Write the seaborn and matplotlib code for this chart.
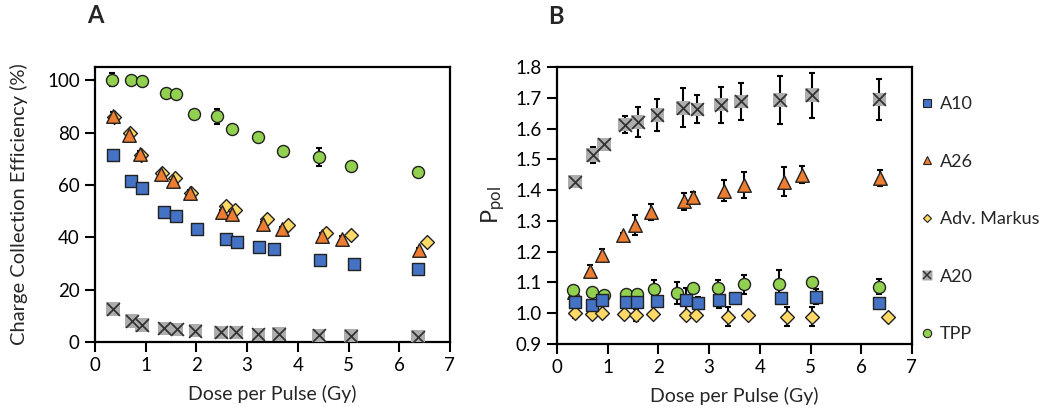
import numpy as np
import pandas as pd
import seaborn as sns
import matplotlib.pyplot as plt
from matplotlib.lines import Line2D

# ---- panel A: charge collection efficiency (%) ----
a_a10_dose = [0.36, 0.71, 0.92, 1.37, 1.60, 2.01, 2.58, 2.81, 3.23, 3.53, 4.44, 5.11, 6.38]
a_a10 = [71.5, 61.6, 58.9, 49.7, 48.1, 43.1, 39.4, 38.0, 36.3, 35.4, 31.3, 29.9, 27.7]
a_a10_err = [0.8, 1.5, 0.8, 0.8, 0.8, 0.8, 0.8, 0.8, 0.8, 0.8, 0.8, 0.8, 0.8]

a_a26_dose = [0.35, 0.67, 0.89, 1.30, 1.54, 1.87, 2.51, 2.70, 3.31, 3.69, 4.48, 4.88, 6.39]
a_a26 = [86.5, 79.0, 72.0, 64.0, 61.5, 57.0, 49.5, 49.0, 45.0, 43.0, 40.5, 39.5, 35.0]
a_a26_err = [1.5, 1.0, 1.0, 1.0, 1.0, 1.0, 1.0, 1.0, 1.0, 1.0, 1.0, 1.0, 1.0]

a_adv_dose = [0.37, 0.68, 0.90, 1.32, 1.58, 1.90, 2.58, 2.77, 3.40, 3.80, 4.55, 5.04, 6.55]
a_adv = [86.0, 80.0, 71.5, 64.5, 62.5, 57.0, 52.0, 50.5, 47.0, 44.5, 41.5, 41.0, 38.0]
a_adv_err = [0.8, 0.8, 0.8, 0.8, 0.8, 0.8, 0.8, 0.8, 0.8, 0.8, 0.8, 0.8, 0.8]

a_a20_dose = [0.35, 0.72, 0.93, 1.37, 1.61, 1.98, 2.49, 2.78, 3.22, 3.63, 4.41, 5.05, 6.37]
a_a20 = [12.5, 8.0, 6.5, 5.2, 4.8, 4.3, 3.6, 3.6, 2.9, 3.0, 2.5, 2.3, 1.9]
a_a20_err = [0.5, 0.5, 0.5, 0.5, 0.5, 0.5, 0.5, 0.5, 0.5, 0.5, 0.5, 0.5, 0.5]

a_tpp_dose = [0.33, 0.70, 0.93, 1.40, 1.59, 1.95, 2.40, 2.71, 3.21, 3.71, 4.41, 5.04, 6.37]
a_tpp = [100.2, 100.0, 99.7, 95.2, 94.8, 87.0, 86.3, 81.2, 78.4, 73.0, 70.7, 67.2, 64.9]
a_tpp_err = [2.5, 0.8, 0.8, 0.8, 0.8, 1.8, 2.9, 1.0, 1.0, 1.5, 3.4, 0.8, 1.2]

# ---- panel B: Ppol ----
b_a10_dose = [0.355, 0.68, 0.89, 1.36, 1.57, 1.98, 2.55, 2.79, 3.20, 3.51, 4.41, 5.10, 6.36]
b_a10 = [1.035, 1.028, 1.043, 1.035, 1.035, 1.039, 1.043, 1.033, 1.043, 1.051, 1.051, 1.054, 1.033]
b_a10_err = [0.02, 0.015, 0.01, 0.01, 0.015, 0.01, 0.04, 0.02, 0.025, 0.01, 0.01, 0.025, 0.01]

b_a26_dose = [0.34, 0.66, 0.89, 1.30, 1.54, 1.85, 2.50, 2.68, 3.29, 3.69, 4.48, 4.83, 6.37]
b_a26 = [1.07, 1.138, 1.19, 1.255, 1.287, 1.329, 1.364, 1.379, 1.399, 1.417, 1.428, 1.451, 1.44]
b_a26_err = [0.01, 0.02, 0.02, 0.005, 0.033, 0.026, 0.027, 0.015, 0.035, 0.043, 0.046, 0.027, 0.026]

b_adv_dose = [0.355, 0.68, 0.89, 1.32, 1.55, 1.90, 2.55, 2.75, 3.38, 3.76, 4.53, 5.03, 6.52]
b_adv = [1.0, 0.997, 1.0, 0.997, 0.994, 0.997, 0.994, 0.994, 0.989, 0.994, 0.989, 0.989, 0.989]
b_adv_err = [0.015, 0.01, 0.005, 0.005, 0.02, 0.005, 0.01, 0.01, 0.03, 0.005, 0.03, 0.03, 0.005]

b_a20_dose = [0.355, 0.70, 0.93, 1.34, 1.59, 1.98, 2.48, 2.77, 3.23, 3.63, 4.39, 5.03, 6.36]
b_a20 = [1.428, 1.515, 1.549, 1.613, 1.622, 1.645, 1.668, 1.663, 1.678, 1.689, 1.694, 1.709, 1.695]
b_a20_err = [0.005, 0.027, 0.01, 0.027, 0.05, 0.051, 0.064, 0.045, 0.059, 0.061, 0.079, 0.073, 0.066]

b_tpp_dose = [0.31, 0.68, 0.92, 1.37, 1.57, 1.91, 2.37, 2.68, 3.17, 3.69, 4.37, 5.03, 6.36]
b_tpp = [1.075, 1.069, 1.059, 1.062, 1.062, 1.078, 1.065, 1.083, 1.083, 1.094, 1.094, 1.102, 1.086]
b_tpp_err = [0.015, 0.01, 0.005, 0.01, 0.015, 0.03, 0.035, 0.01, 0.025, 0.03, 0.045, 0.01, 0.025]

labels = ['A10', 'A26', 'Adv. Markus', 'A20', 'TPP']
colores = {'A10': '#4472C4', 'A26': '#ED7D31', 'Adv. Markus': '#FFD966',
           'A20': '#ADADAD', 'TPP': '#92D050'}
marcadores = {'A10': 's', 'A26': '^', 'Adv. Markus': 'D', 'A20': 's', 'TPP': 'o'}
tam = {'A10': 80, 'A26': 95, 'Adv. Markus': 50, 'A20': 95, 'TPP': 75}

sns.set_theme(style='ticks')
plt.rcParams['font.family'] = ['Lato', 'DejaVu Sans']
plt.rcParams['mathtext.fontset'] = 'custom'
plt.rcParams['mathtext.rm'] = 'Lato'
plt.rcParams['mathtext.it'] = 'Lato'

fig = plt.figure(figsize=(10.5, 4.2), dpi=100)
ax_a = fig.add_axes([0.0905, 0.186, 0.338, 0.654])
ax_b = fig.add_axes([0.5305, 0.181, 0.338, 0.659])


def dibujar(ax, series, orden):
    for nombre in orden:
        x, y, e = series[nombre]
        ax.errorbar(x, y, yerr=e, fmt='none', ecolor='black', elinewidth=1.5,
                    capsize=2.5, capthick=1.5, zorder=2)
    for z, nombre in enumerate(orden):
        x, y, e = series[nombre]
        df = pd.DataFrame({'dosis': x, 'valor': y})
        if nombre == 'A20':
            sns.scatterplot(data=df, x='dosis', y='valor', ax=ax, marker='s',
                            color=colores[nombre], edgecolor='none', s=tam[nombre],
                            zorder=3 + z, legend=False)
            sns.scatterplot(data=df, x='dosis', y='valor', ax=ax, marker='x',
                            color='#333333', s=tam[nombre] * 0.9, linewidth=1.3,
                            zorder=3 + z, legend=False)
        else:
            sns.scatterplot(data=df, x='dosis', y='valor', ax=ax,
                            marker=marcadores[nombre], color=colores[nombre],
                            edgecolor='#222222', linewidth=1.0, s=tam[nombre],
                            zorder=3 + z, legend=False)


serie_a = {'A10': (a_a10_dose, a_a10, a_a10_err),
           'A26': (a_a26_dose, a_a26, a_a26_err),
           'Adv. Markus': (a_adv_dose, a_adv, a_adv_err),
           'A20': (a_a20_dose, a_a20, a_a20_err),
           'TPP': (a_tpp_dose, a_tpp, a_tpp_err)}
serie_b = {'A10': (b_a10_dose, b_a10, b_a10_err),
           'A26': (b_a26_dose, b_a26, b_a26_err),
           'Adv. Markus': (b_adv_dose, b_adv, b_adv_err),
           'A20': (b_a20_dose, b_a20, b_a20_err),
           'TPP': (b_tpp_dose, b_tpp, b_tpp_err)}

dibujar(ax_a, serie_a, ['A20', 'A10', 'Adv. Markus', 'A26', 'TPP'])
dibujar(ax_b, serie_b, ['Adv. Markus', 'A20', 'A26', 'TPP', 'A10'])

for ax in (ax_a, ax_b):
    ax.set_xlim(0, 7)
    ax.set_xticks(range(0, 8))
    for s in ax.spines.values():
        s.set_linewidth(1.6)
        s.set_color('black')
    ax.tick_params(axis='both', direction='out', length=7, width=1.5,
                   labelsize=13.5, colors='black', pad=4)
    ax.set_xlabel('Dose per Pulse (Gy)', fontsize=14, labelpad=8)

ax_a.set_ylim(0, 105)
ax_a.set_yticks(range(0, 101, 20))
ax_a.set_ylabel('Charge Collection Efficiency (%)', fontsize=14.5, labelpad=14)

ax_b.set_ylim(0.9, 1.8)
ax_b.set_yticks(np.round(np.arange(0.9, 1.81, 0.1), 1))
ax_b.set_yticklabels([f'{v:.1f}' for v in np.arange(0.9, 1.81, 0.1)])
ax_b.set_ylabel(r'P$_{\mathrm{pol}}$', fontsize=17, labelpad=6)

fig.text(0.091, 0.962, 'A', fontsize=17, fontweight='bold', ha='center', va='center')
fig.text(0.529, 0.960, 'B', fontsize=17, fontweight='bold', ha='center', va='center')

handles = []
for nombre in labels:
    if nombre == 'A20':
        h = (Line2D([], [], marker='s', color=colores[nombre], ls='none', ms=6.5, mec='none'),
             Line2D([], [], marker='x', color='#333333', ls='none', ms=5.5, mew=1.1))
    else:
        h = Line2D([], [], marker=marcadores[nombre], ls='none', mfc=colores[nombre],
                   mec='#222222', mew=0.8, ms=6 if nombre != 'Adv. Markus' else 4.5)
    handles.append(h)
ax_b.legend(handles, labels, loc='upper left', bbox_to_anchor=(0.995, 0.935),
            frameon=False, fontsize=13, labelspacing=2.3, handlelength=0.7,
            handletextpad=0.35, borderaxespad=0.2)

fig.savefig('out.png', dpi=100)
